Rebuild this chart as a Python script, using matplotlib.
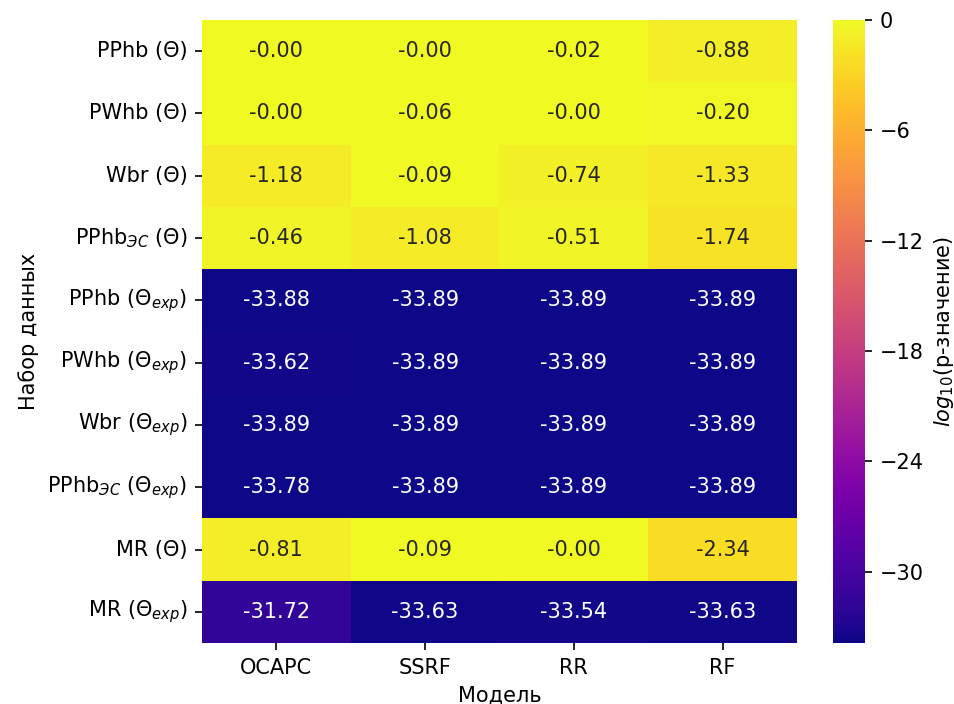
import numpy as np
import pandas as pd
import matplotlib
matplotlib.use('Agg')
import matplotlib.pyplot as plt
import seaborn as sns

models = ['OCAPC', 'SSRF', 'RR', 'RF']
datasets = ['PPhb (Θ)', 'PWhb (Θ)', 'Wbr (Θ)',
            'PPhb$_{ЭС}$ (Θ)',
            'PPhb (Θ$_{exp}$)', 'PWhb (Θ$_{exp}$)', 'Wbr (Θ$_{exp}$)',
            'PPhb$_{ЭС}$ (Θ$_{exp}$)',
            'MR (Θ)', 'MR (Θ$_{exp}$)']

# log10 p-values (tiny negatives print as -0.00)
ocapc = [-0.001, -0.001, -1.18, -0.46, -33.88, -33.62, -33.89, -33.78, -0.81, -31.72]
ssrf = [-0.001, -0.06, -0.09, -1.08, -33.89, -33.89, -33.89, -33.89, -0.09, -33.63]
rr = [-0.02, -0.001, -0.74, -0.51, -33.89, -33.89, -33.89, -33.89, -0.001, -33.54]
rf = [-0.88, -0.20, -1.33, -1.74, -33.89, -33.89, -33.89, -33.89, -2.34, -33.63]

df = pd.DataFrame({'OCAPC': ocapc, 'SSRF': ssrf, 'RR': rr, 'RF': rf}, index=datasets)

fig = plt.figure(figsize=(955/150, 704/150), dpi=150)
ax = fig.add_axes([0.2115, 0.0866, 0.623, 0.885])
cax = fig.add_axes([0.8723, 0.0866, 0.0335, 0.885])
sns.heatmap(df, annot=True, fmt='.2f', cmap='plasma', vmax=0, ax=ax, cbar_ax=cax,
            cbar_kws={'label': r'$log_{10}$(p-значение)', 'ticks': [0, -6, -12, -18, -24, -30]})
ax.set_xlabel('Модель')
ax.set_ylabel('Набор данных')
ax.tick_params(axis='y', rotation=0)
plt.savefig('out.png', dpi=150)
